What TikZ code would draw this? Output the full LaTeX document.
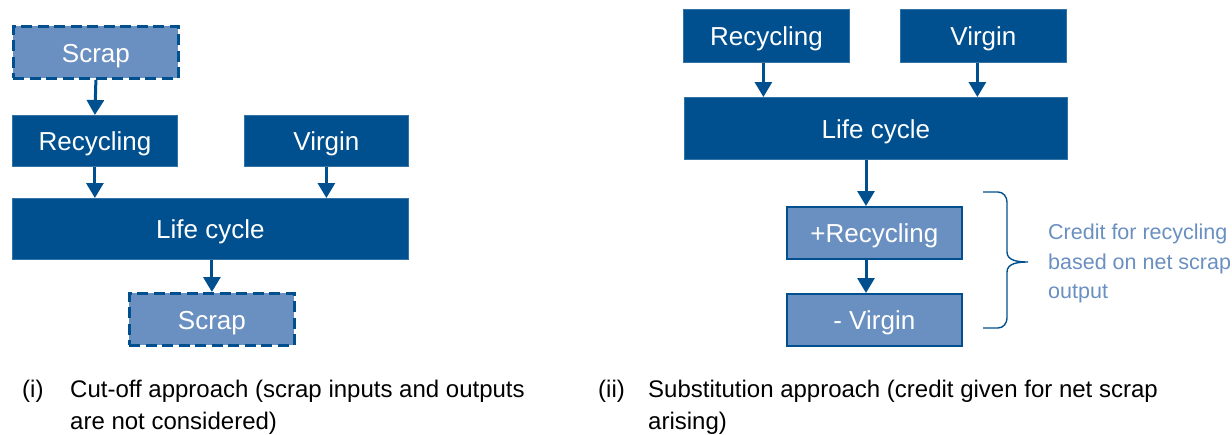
\documentclass[tikz,border=0pt]{standalone}
\usepackage{fontspec}
\setmainfont{Liberation Sans}
\usepackage{xcolor}
\usetikzlibrary{arrows.meta, positioning}

\definecolor{darkblue}{RGB}{0,80,143}
\definecolor{lightblue}{RGB}{106,143,193}

\begin{document}
\begin{tikzpicture}[
        x=1pt, y=-1pt,
        % Node styles
        darkbox/.style={rectangle, fill=darkblue, draw=darkblue!80!white, line width=0.8pt,
                        anchor=north west, inner sep=0pt, text=white, text centered,
                        text height=20pt, text depth=0pt,
                        font=\fontsize{26}{31}\selectfont},
        scrapbox/.style={darkbox, fill=lightblue, draw=darkblue, line width=2.8pt,
                        dash pattern=on 11pt off 5.5pt},
        creditbox/.style={darkbox, fill=lightblue, draw=darkblue, line width=1.6pt},
        caption/.style={anchor=north west, inner sep=0pt, align=left,
                        font=\fontsize{24}{32}\selectfont},
        arrow/.style={draw=darkblue, line width=3pt, -{Triangle[length=15pt, width=17pt]}}
    ]
        \useasboundingbox (0,0) rectangle (1232,434);

        % (i) cut-off approach
        \node[scrapbox, minimum width=165pt, minimum height=52pt] at (12,25) (scraptop) {Scrap};
        \node[darkbox, minimum width=165pt, minimum height=51pt] at (12,115) (recyclingA) {Recycling};
        \node[darkbox, minimum width=164pt, minimum height=51pt] at (244,115) (virginA) {Virgin};
        \node[darkbox, minimum width=396pt, minimum height=61pt] at (12,198) (lifeA) {Life cycle};
        \node[scrapbox, minimum width=165pt, minimum height=52pt] at (128,292) (scrapbottom) {Scrap};

        \draw[arrow] (scraptop.south) -- (recyclingA.north);
        \draw[arrow] (recyclingA.south) -- (recyclingA.south |- lifeA.north);
        \draw[arrow] (virginA.south) -- (virginA.south |- lifeA.north);
        \draw[arrow] (scrapbottom.north |- lifeA.south) -- (scrapbottom.north);

        % (ii) substitution approach
        \node[darkbox, minimum width=166pt, minimum height=53pt] at (683,9) (recyclingB) {Recycling};
        \node[darkbox, minimum width=166pt, minimum height=53pt] at (900,9) (virginB) {Virgin};
        \node[darkbox, minimum width=383pt, minimum height=62pt] at (684,97) (lifeB) {Life cycle};
        \node[creditbox, minimum width=175pt, minimum height=52pt] at (786,206) (plusrecycling) {+Recycling};
        \node[creditbox, minimum width=175pt, minimum height=52pt] at (786,293) (minusvirgin) {- Virgin};

        \coordinate (lifeBout) at (866,160);
        \draw[arrow] (recyclingB.south) ++(-3,0) coordinate (recBout) -- (recBout |- lifeB.north);
        \draw[arrow] (virginB.south) ++(-6,0) coordinate (virBout) -- (virBout |- lifeB.north);
        \draw[arrow] (lifeBout) -- (lifeBout |- plusrecycling.north);
        \draw[arrow] (lifeBout |- plusrecycling.south) -- (lifeBout |- minusvirgin.north);

        % Brace and credit note
        \draw[darkblue, line width=1.4pt] (983,192) -- (998,192) to[out=0, in=90] (1007,202)
            -- (1007,252) to[out=-90, in=180] (1028,262) to[out=180, in=90] (1007,272)
            -- (1007,318) to[out=-90, in=0] (998,328) -- (983,328);
        \node[anchor=north west, inner sep=0pt, align=left, text=lightblue,
              font=\fontsize{21.5}{29.5}\selectfont] at (1048,224) (creditnote)
              {Credit for recycling\\based on net scrap\\output};

        % Captions
        \node[caption] at (22,380) (labelA) {(i)};
        \node[caption] at (70,380) (captionA) {Cut-off approach (scrap inputs and outputs\\are not considered)};
        \node[caption] at (598,380) (labelB) {(ii)};
        \node[caption] at (648,380) (captionB) {Substitution approach (credit given for net scrap\\arising)};
    \end{tikzpicture}
\end{document}
